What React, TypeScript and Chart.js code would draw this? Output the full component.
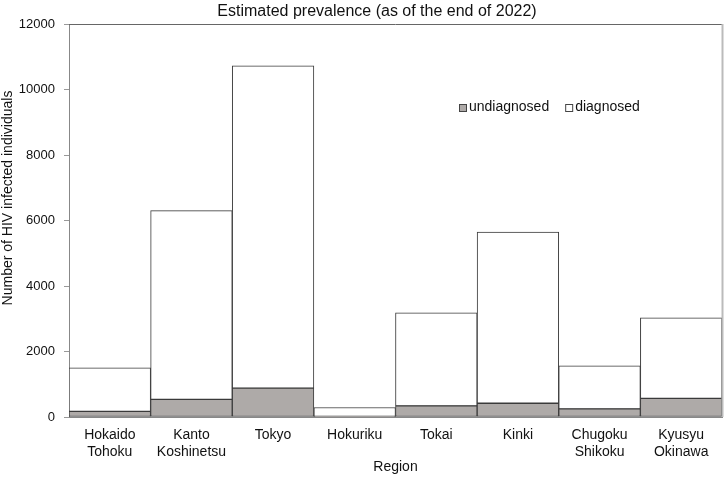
import React, { useEffect, useRef } from "react";
import { Chart, registerables } from "chart.js";

Chart.register(...registerables);

const categories: string[][] = [
  ["Hokaido", "Tohoku"],
  ["Kanto", "Koshinetsu"],
  ["Tokyo"],
  ["Hokuriku"],
  ["Tokai"],
  ["Kinki"],
  ["Chugoku", "Shikoku"],
  ["Kyusyu", "Okinawa"],
];
const undiagnosed = [170, 540, 880, 20, 340, 420, 250, 570];
const totals = [1500, 6300, 10720, 290, 3180, 5650, 1560, 3030];
const diagnosed = totals.map((t, i) => t - undiagnosed[i]);
const yTicks = { min: 0, max: 12000, step: 2000 };
const titleText = "Estimated prevalence (as of the end of 2022)";
const xTitle = "Region";
const yTitle = "Number of HIV infected individuals";

const FONT = "'Liberation Sans', Arial, Helvetica, sans-serif";

const decorPlugin = {
  id: "decor",
  afterDatasetsDraw(chart: any) {
    const { ctx, chartArea } = chart;
    ctx.save();
    ctx.lineWidth = 1;
    ctx.strokeStyle = "#666666";
    ctx.beginPath();
    ctx.moveTo(chartArea.left, chartArea.top + 0.5);
    ctx.lineTo(chartArea.right, chartArea.top + 0.5);
    ctx.stroke();
    ctx.strokeStyle = "#bbbbbb";
    ctx.lineWidth = 2;
    ctx.beginPath();
    ctx.moveTo(chartArea.right + 0.5, chartArea.top);
    ctx.lineTo(chartArea.right + 0.5, chartArea.bottom);
    ctx.stroke();
    ctx.restore();
  },
  afterDraw(chart: any) {
    const { ctx } = chart;
    ctx.save();
    ctx.fillStyle = "#111111";
    ctx.font = `16px ${FONT}`;
    ctx.textAlign = "center";
    ctx.textBaseline = "middle";
    ctx.fillText(titleText, 377, 12);
    ctx.font = `14px ${FONT}`;
    ctx.translate(8, 198);
    ctx.rotate(-Math.PI / 2);
    ctx.fillText(yTitle, 0, 0);
    ctx.restore();

    ctx.save();
    ctx.font = `14px ${FONT}`;
    ctx.textAlign = "left";
    ctx.textBaseline = "middle";
    let x = 459;
    const y = 107.5;
    chart.data.datasets.forEach((ds: any) => {
      ctx.fillStyle = ds.backgroundColor;
      ctx.fillRect(x, y - 3.5, 7, 7);
      ctx.strokeStyle = "#444444";
      ctx.lineWidth = 1;
      ctx.strokeRect(x + 0.5, y - 3.5 + 0.5, 7, 7);
      ctx.fillStyle = "#111111";
      ctx.fillText(ds.label, x + 10, y);
      x += 10 + ctx.measureText(ds.label).width + 16;
    });
    ctx.restore();
  },
};

export default function App() {
  const ref = useRef<HTMLCanvasElement | null>(null);
  useEffect(() => {
    document.body.style.margin = "0";
    const canvas = ref.current!;
    const chart = new Chart(canvas, {
      type: "bar",
      data: {
        labels: categories,
        datasets: [
          {
            label: "undiagnosed",
            data: undiagnosed,
            backgroundColor: "#aeaaa8",
            borderColor: "#3a3a3a",
            borderWidth: 1,
            borderSkipped: false,
            barPercentage: 1,
            categoryPercentage: 1,
          },
          {
            label: "diagnosed",
            data: diagnosed,
            backgroundColor: "#ffffff",
            borderColor: "#3a3a3a",
            borderWidth: 1,
            borderSkipped: false,
            barPercentage: 1,
            categoryPercentage: 1,
          },
        ],
      },
      options: {
        animation: false,
        responsive: false,
        maintainAspectRatio: false,
        layout: { padding: { top: 24, right: 2, bottom: 0, left: 0 } },
        plugins: {
          legend: { display: false },
          title: { display: false },
          tooltip: { enabled: false },
        },
        scales: {
          x: {
            stacked: true,
            grid: { display: true, drawOnChartArea: false, drawTicks: false },
            border: { display: true, color: "#888888", width: 1 },
            ticks: {
              color: "#111111",
              font: { family: FONT, size: 14 },
              padding: 10,
              maxRotation: 0,
              autoSkip: false,
            },
            title: {
              display: true,
              text: xTitle,
              color: "#111111",
              font: { family: FONT, size: 14 },
              padding: { top: 0, bottom: 1 },
            },
            afterFit: (s: any) => {
              s.height = 60;
            },
          },
          y: {
            stacked: true,
            min: yTicks.min,
            max: yTicks.max,
            grid: {
              display: true,
              drawOnChartArea: false,
              drawTicks: true,
              tickLength: 5,
              color: "#999999",
            },
            border: { display: true, color: "#888888", width: 1 },
            ticks: {
              stepSize: yTicks.step,
              color: "#111111",
              font: { family: FONT, size: 13 },
              padding: 9,
              callback: (v: any) => String(v),
            },
            afterFit: (s: any) => {
              s.width = 69;
            },
          },
        },
      },
      plugins: [decorPlugin],
    });
    return () => chart.destroy();
  }, []);
  return (
    <div style={{ width: 724, height: 477, background: "#ffffff" }}>
      <canvas ref={ref} width={724} height={477} style={{ display: "block" }} />
    </div>
  );
}
